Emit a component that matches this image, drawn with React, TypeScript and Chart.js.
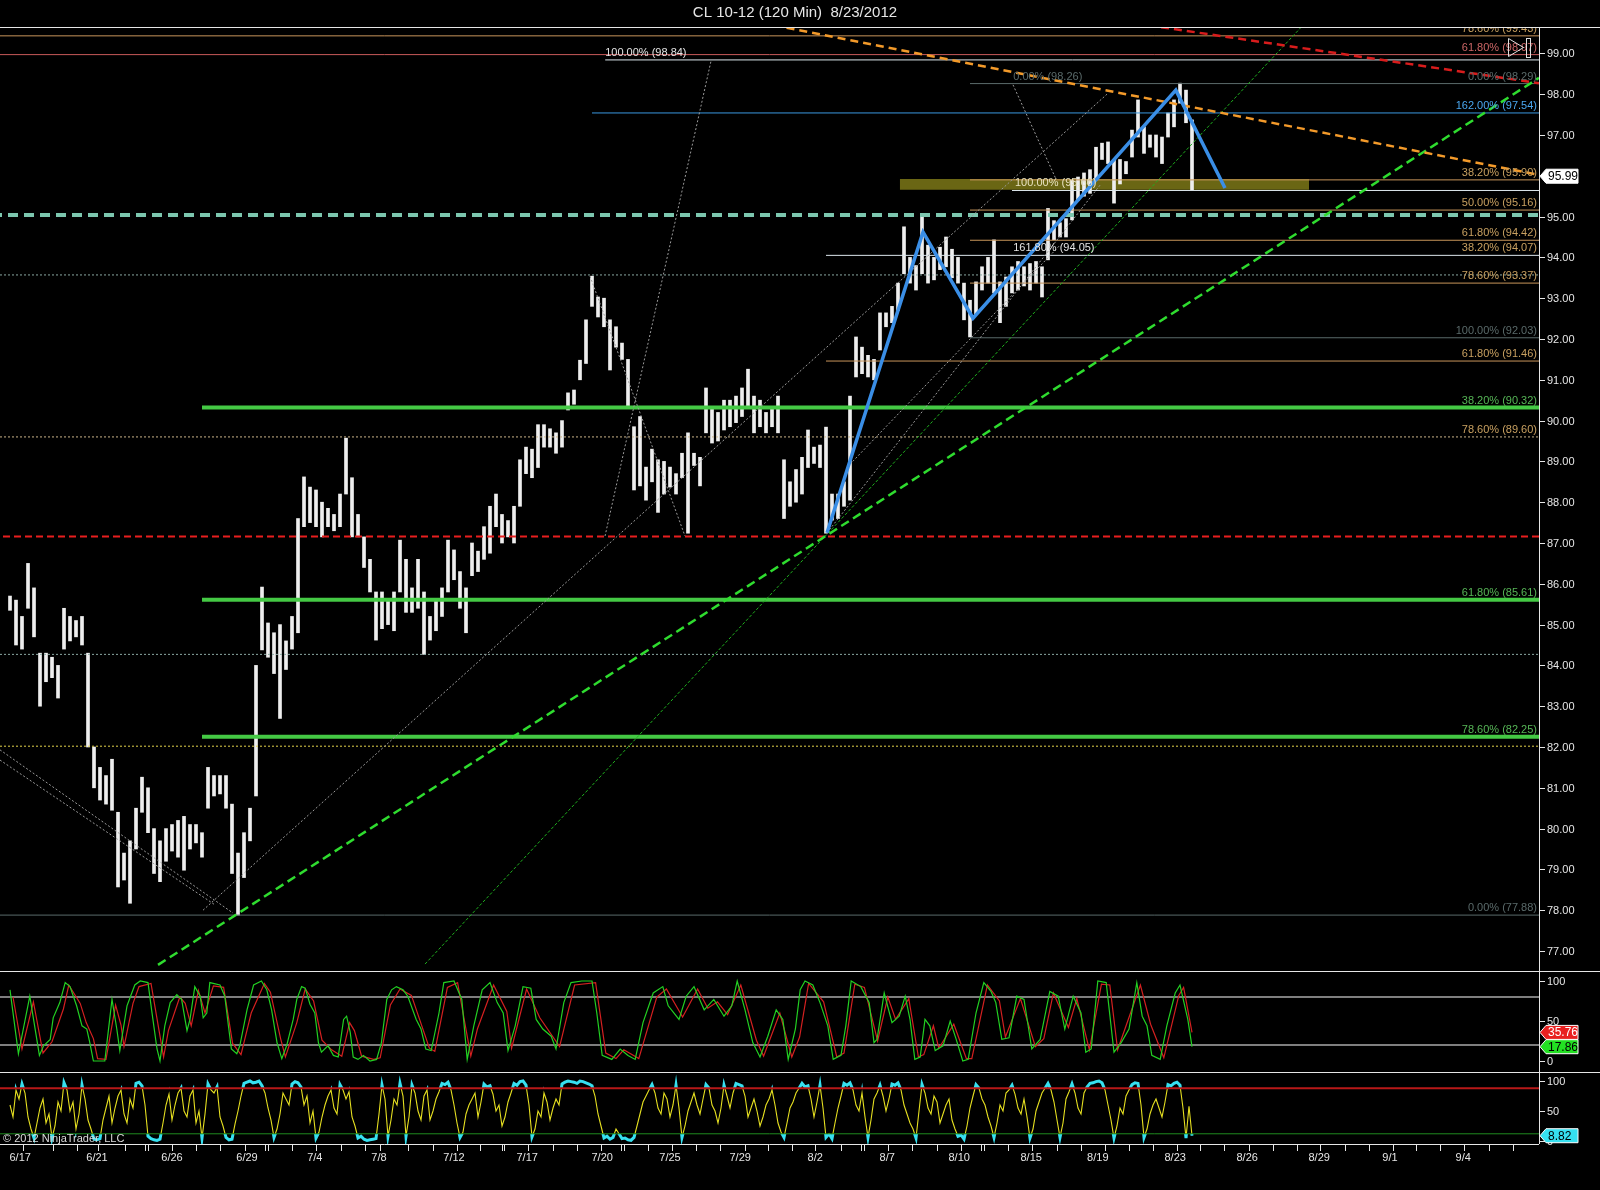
import React, { useEffect, useRef } from 'react';
import { Chart, registerables } from 'chart.js';

Chart.register(...registerables);

const FONT = "'Liberation Sans', Arial, sans-serif";
const TITLE = 'CL 10-12 (120 Min)  8/23/2012';
const COPYRIGHT = '\u00a9 2012 NinjaTrader, LLC';

// x axis: one slot per drawn price bar
const X_MIN = -1.667;
const X_MAX = 254.833;
// price axis range of the main panel
const P_MIN = 76.51;
const P_MAX = 99.647;

const highs = [
  85.7, 85.6, 85.2, 86.5, 85.9, 84.3, 84.3, 84.2, 84.0, 85.4,
  85.2, 85.1, 85.2, 84.3, 82.0, 81.5, 81.3, 81.7, 80.4, 79.4,
  79.7, 80.5, 81.26, 81.0, 80.0, 79.7, 80.0, 80.1, 80.2, 80.3,
  80.1, 80.1, 79.9, 81.5, 81.3, 81.3, 81.3, 80.6, 79.4, 79.9,
  80.5, 84.0, 85.92, 85.04, 84.8, 85.0, 84.6, 85.2, 87.6, 88.62,
  88.37, 88.3, 88.0, 87.85, 87.7, 88.2, 89.57, 88.6, 87.7, 87.15,
  86.6, 85.8, 85.8, 85.6, 85.8, 87.07, 86.6, 85.9, 86.6, 85.8,
  85.2, 85.6, 85.9, 87.07, 86.83, 86.3, 85.9, 87.0, 86.8, 87.4,
  87.9, 88.2, 87.7, 87.55, 87.9, 89.04, 89.35, 89.3, 89.9, 89.9,
  89.8, 89.7, 90.0, 90.68, 90.75, 91.48, 92.47, 93.54, 93.03, 93.0,
  92.47, 92.3, 91.9, 91.5, 89.85, 90.1, 88.86, 89.3, 89.04, 89.0,
  88.86, 88.7, 89.2, 89.7, 89.2, 89.1, 90.8, 90.33, 90.2, 90.5,
  90.5, 90.6, 90.8, 91.26, 90.6, 90.5, 90.2, 90.3, 90.6, 89.04,
  88.5, 88.8, 89.1, 89.77, 89.35, 89.4, 89.84, 88.2, 88.2, 88.5,
  90.6, 92.05, 91.8, 91.6, 91.5, 92.64, 92.64, 92.8, 93.37, 94.75,
  94.0, 93.8, 94.99, 94.3, 94.0, 94.25, 94.5, 94.2, 94.0, 93.37,
  92.95, 93.4, 93.77, 94.0, 94.43, 93.4, 93.52, 93.77, 93.9, 93.77,
  93.85, 93.9, 93.77, 95.2, 94.9, 94.85, 94.95, 95.9, 95.97, 96.07,
  96.15, 96.7, 96.8, 96.83, 96.4, 96.4, 96.35, 97.12, 97.86, 97.2,
  97.0, 97.0, 96.95, 97.54, 97.86, 98.27, 98.1, 97.37,
];

const lows = [
  85.35, 84.5, 84.4, 85.4, 84.7, 83.0, 83.6, 83.7, 83.2, 84.4,
  84.6, 84.7, 84.5, 82.0, 81.0, 80.7, 80.6, 80.45, 78.57, 78.74,
  78.17, 79.5, 80.4, 79.9, 78.9, 78.7, 79.2, 79.45, 79.3, 78.98,
  79.5, 79.65, 79.3, 80.5, 80.8, 80.85, 80.5, 78.9, 77.88, 78.8,
  79.7, 80.8, 84.38, 84.2, 83.8, 82.7, 83.9, 84.4, 84.8, 87.4,
  87.5, 87.4, 87.15, 87.4, 87.3, 87.4, 88.2, 87.15, 87.15, 86.4,
  85.8, 84.62, 84.9, 85.0, 84.85, 85.8, 85.3, 85.3, 85.4, 84.27,
  84.62, 84.85, 85.2, 85.8, 86.1, 85.4, 84.8, 86.2, 86.3, 86.6,
  86.75, 87.4, 87.0, 87.15, 87.0, 87.9, 88.7, 88.6, 88.85, 89.35,
  89.35, 89.2, 89.35, 90.26, 90.4, 91.0, 91.4, 92.8, 92.54, 92.3,
  91.24, 91.8, 91.5, 90.33, 88.3, 88.4, 88.05, 88.5, 87.75, 88.2,
  88.37, 88.2, 88.6, 87.24, 88.9, 88.4, 89.7, 89.45, 89.5, 89.77,
  89.85, 89.95, 90.1, 90.3, 89.7, 89.85, 89.7, 89.85, 89.7, 87.6,
  87.9, 88.0, 88.2, 88.85, 88.95, 88.85, 87.24, 87.56, 87.6, 87.9,
  88.05, 91.07, 91.15, 91.07, 91.0, 91.73, 92.3, 92.4, 92.7, 93.6,
  93.37, 93.2, 93.6, 93.37, 93.45, 93.7, 93.77, 93.5, 93.37, 92.47,
  92.05, 92.6, 93.2, 93.37, 93.13, 92.4, 92.8, 93.13, 93.2, 93.3,
  93.2, 93.37, 93.03, 93.94, 94.43, 94.5, 94.5, 94.92, 95.4, 95.5,
  95.57, 95.9, 96.4, 96.3, 95.33, 95.8, 96.05, 96.46, 96.95, 96.55,
  96.7, 96.46, 96.3, 96.95, 97.2, 97.78, 97.3, 95.66,
];

const lastPrice = 95.99;
const priceTicks = [77, 78, 79, 80, 81, 82, 83, 84, 85, 86, 87, 88, 89, 90, 91, 92, 93, 94, 95, 97, 98, 99];

// horizontal levels (price, first slot, style key, right label, right label colour, left label, left label slot)
const hPrice = [99.43, 98.97, 98.84, 98.26, 97.54, 95.9, 95.64, 95.16, 95.04, 94.42, 94.05, 93.57, 93.37, 92.03, 91.46, 90.32, 89.6, 87.16, 85.61, 84.27, 82.25, 82.02, 77.88];
const hFrom = [-3, -3, 99.2, 160, 97, 160, 167, 160, -3, 160, 136, -3, 160, 160, 136, 32, -3, -3, 32, -3, 32, -3, -3];
const hStyle = ['tan', 'salmon', 'white', 'gray', 'blue', 'tan', 'white', 'tan', 'teal', 'tan', 'white', 'dot', 'tan', 'gray', 'tan', 'green', 'tandot', 'reddash', 'green', 'dot', 'green', 'yellowdot', 'gray'];
const hRightText = ['78.60% (99.43)', '61.80% (98.97)', '', '0.00% (98.29)', '162.00% (97.54)', '38.20% (95.90)', '', '50.00% (95.16)', '', '61.80% (94.42)', '38.20% (94.07)', '', '78.60% (93.37)', '100.00% (92.03)', '61.80% (91.46)', '38.20% (90.32)', '78.60% (89.60)', '', '61.80% (85.61)', '', '78.60% (82.25)', '', '0.00% (77.88)'];
const hRightColor = ['tan', 'salmon', '', 'gray', 'blue', 'tan', '', 'tan', '', 'tan', 'tan', '', 'tan', 'gray', 'tan', 'green', 'tan', '', 'green', '', 'green', '', 'gray'];
const hLeftText = ['', '', '100.00% (98.84)', '0.00% (98.26)', '', '', '100.00% (95.66)', '', '', '', '161.80% (94.05)', '', '', '', '', '', '', '', '', '', '', '', ''];
const hLeftColor = ['', '', 'white', 'gray', '', '', 'cream', '', '', '', 'white', '', '', '', '', '', '', '', '', '', '', '', ''];
const hLeftAt = [0, 0, 99.2, 167.2, 0, 0, 167.5, 0, 0, 0, 167.2, 0, 0, 0, 0, 0, 0, 0, 0, 0, 0, 0, 0];

// olive zone
const bandFrom = 148.3;
const bandTo = 216.5;
const bandTop = 95.92;
const bandBottom = 95.66;

// trend / channel lines: start slot, start price, end slot, end price
const diagX0 = [127.3, 189.7, 24.67, 69.17, 32.17, 96.67, 99.17, -1.67, -1.67, 167.17, 136.17, 140];
const diagP0 = [99.69, 99.69, 76.66, 76.68, 78.0, 93.54, 87.17, 81.93, 81.68, 98.23, 87.25, 88.93];
const diagX1 = [254.83, 254.83, 254.83, 215.5, 182.83, 112.5, 116.83, 37.17, 34.17, 174.33, 181.67, 175];
const diagP1 = [96.02, 98.27, 98.4, 99.69, 98.0, 87.17, 98.81, 77.93, 78.13, 95.92, 95.77, 94.3];
const diagStyle = ['orangeDash', 'redDiag', 'greenDash', 'greenThin', 'grayThin', 'grayThin', 'grayThin', 'grayThin', 'grayThin', 'grayThin', 'grayThin', 'grayThin'];

// blue swing pattern
const zigX = [136.17, 152.17, 160.5, 194.3, 202.5];
const zigP = [87.25, 94.62, 92.51, 98.1, 95.7];

// stochastics (slot, value)
const stochK = [
  [0, 89], [1.4, 9], [3.3, 81], [4.9, 7], [5.6, 19], [6.7, 27], [7.2, 54], [8.3, 73], [9.2, 98], [10, 93],
  [11.1, 69], [12, 44], [12.8, 40], [13.3, 23], [13.9, 0], [15.8, 0], [17, 77], [17.8, 40], [18.3, 13], [19.5, 69],
  [20, 79], [20.8, 95], [21.7, 100], [23, 98], [23.6, 64], [24.5, 15], [25, 0], [25.8, 44], [26.7, 73], [27.8, 83],
  [28.6, 77], [29.5, 38], [30, 52], [30.8, 93], [31.7, 81], [32.2, 54], [32.8, 60], [33.3, 98], [35, 95], [35.8, 81],
  [36.4, 44], [36.9, 15], [37.8, 9], [38.3, 19], [39.5, 64], [40.6, 95], [41.9, 100], [42.8, 89], [43.6, 64], [44.5, 23],
  [45.3, 3], [46.1, 19], [47.2, 52], [47.8, 77], [48.6, 93], [49.2, 91], [50, 71], [50.8, 60], [51.4, 23], [51.9, 11],
  [53, 19], [53.9, 7], [54.7, 5], [55.6, 52], [56.1, 56], [56.7, 36], [57.2, 5], [58, 2], [58.9, 7], [60, 0],
  [61.1, 2], [61.9, 23], [62.8, 77], [63.6, 89], [64.4, 93], [65.5, 89], [66.3, 81], [67.7, 52], [68.5, 40], [69.3, 15],
  [70.2, 13], [71.5, 60], [72.3, 98], [74, 100], [75.3, 77], [76.2, 2], [77.3, 44], [78.7, 89], [80, 98], [81.2, 73],
  [82.2, 60], [83, 13], [84.2, 44], [85.5, 93], [86.8, 91], [87.7, 52], [88.8, 40], [90.2, 31], [91, 15], [92.3, 73],
  [93.5, 98], [95.3, 100], [97, 100], [97.8, 60], [98.7, 7], [100.3, 2], [101.7, 15], [103, 7], [104.2, 2], [105.5, 48],
  [107.2, 85], [108.8, 93], [109.7, 69], [111.5, 52], [112.7, 81], [114, 93], [115.7, 64], [117.3, 77], [119, 56], [120.3, 69],
  [121.2, 100], [122.5, 64], [123.8, 23], [125, 5], [126.3, 31], [127.7, 64], [128.8, 52], [129.7, 2], [130.9, 40], [131.7, 89],
  [132.5, 100], [133.8, 95], [135, 73], [136.3, 44], [137.2, 2], [138.5, 7], [139.3, 44], [140.2, 100], [141.8, 93], [143.2, 73],
  [144, 23], [144.5, 27], [145.7, 85], [147, 48], [148.2, 56], [149.2, 81], [150, 52], [150.8, 2], [151.7, 5], [152.5, 52],
  [153.3, 44], [154.2, 13], [155.5, 19], [156.7, 50], [157.7, 27], [158.8, 0], [159.7, 2], [161, 60], [162.3, 98], [163.5, 87],
  [164.3, 73], [165.3, 27], [166.5, 29], [167.8, 81], [169, 77], [170.3, 15], [171.7, 27], [173.3, 87], [174.7, 81], [175.8, 40],
  [177.2, 81], [178.5, 60], [179.3, 11], [180.2, 15], [181.3, 100], [182.7, 98], [184, 11], [185.2, 23], [186.5, 40], [187.8, 98],
  [188.7, 56], [189.5, 44], [190.3, 7], [191.7, 2], [192.8, 44], [194.2, 85], [195, 95], [196.3, 52], [197, 17.86],
];

const stochD = [
  [0.5, 80], [2, 15], [3.9, 74], [5.5, 10], [7, 24], [8.9, 65], [9.8, 95], [11.7, 72], [12.7, 48], [13.9, 28],
  [14.6, 3], [16, 2], [17.6, 70], [18.5, 45], [19, 18], [20.5, 72], [21.5, 93], [23.5, 97], [24.2, 66], [25.6, 5],
  [26.4, 38], [28.3, 80], [29.2, 72], [30.2, 44], [31.4, 88], [32.5, 60], [33.9, 94], [35.6, 92], [37.1, 22], [38.5, 8],
  [40.2, 60], [42.4, 97], [43.4, 86], [45.1, 28], [45.9, 5], [47.8, 48], [49.2, 90], [50.6, 75], [52, 26], [53.6, 14],
  [55.3, 6], [56.6, 48], [57.4, 38], [58.6, 6], [60.6, 2], [61.7, 4], [63.4, 70], [65, 90], [66.9, 82], [69.9, 16],
  [70.8, 12], [72.9, 92], [74.6, 98], [76.8, 6], [77.9, 40], [80.6, 95], [82.8, 62], [83.6, 16], [86.1, 90], [88.3, 54],
  [91.6, 18], [94.1, 95], [97.6, 98], [99.3, 10], [101, 3], [102.3, 14], [104.8, 3], [107.8, 80], [109.4, 90], [112.1, 55],
  [114.6, 90], [116.3, 66], [117.9, 74], [119.6, 58], [121.8, 95], [124.4, 26], [125.6, 6], [128.3, 60], [130.3, 5], [131.6, 30],
  [133.1, 97], [135.6, 74], [137.8, 5], [139, 10], [140.8, 96], [142.4, 92], [144.6, 25], [146.3, 80], [147.6, 52], [149.8, 78],
  [151.4, 5], [152.3, 8], [153.9, 44], [154.8, 16], [157.3, 46], [159.4, 3], [160.3, 3], [162.9, 95], [164.9, 75], [165.9, 30],
  [168.4, 78], [170.9, 18], [172.3, 28], [173.9, 85], [176.4, 42], [177.8, 78], [179.9, 14], [181.9, 96], [183.3, 95], [184.6, 14],
  [188.4, 95], [190.1, 46], [192.3, 4], [194.8, 82], [195.6, 92], [197, 35.76],
];

// second oscillator, one value per price bar ...
const osc2 = [
  60, 85, 95, 40, 5, 55, 30, 5, 65, 97,
  50, 20, 93, 35, 3, 4, 55, 30, 75, 45,
  70, 96, 92, 8, 2, 3, 60, 35, 80, 50,
  75, 30, 5, 95, 80, 40, 6, 3, 50, 96,
  100, 98, 92, 55, 6, 45, 70, 95, 97, 60,
  30, 5, 40, 75, 55, 94, 70, 40, 5, 3,
  2, 4, 93, 8, 70, 96, 8, 93, 50, 75,
  35, 70, 96, 98, 60, 6, 45, 70, 40, 95,
  92, 50, 25, 65, 96, 99, 93, 7, 50, 80,
  35, 70, 95, 100, 98, 100, 97, 92, 45, 5,
  3, 20, 4, 2, 6, 45, 75, 94, 55, 80,
  40, 93, 6, 50, 80, 45, 94, 60, 30, 93,
  55, 96, 92, 40, 70, 25, 60, 85, 30, 6,
  55, 80, 96, 92, 40, 93, 6, 4, 55, 96,
  97, 60, 80, 6, 70, 93, 50, 95, 97, 60,
  30, 5, 94, 55, 75, 30, 60, 35, 8, 3,
  55, 94, 70, 40, 6, 60, 80, 93, 55, 70,
  5, 50, 80, 96, 65, 6, 70, 95, 55, 80,
  96, 99, 97, 60, 5, 55, 75, 94, 96, 6,
  45, 70, 40, 94, 96, 93, 5, 8.82,
];
// ... and the readings half-way between them
const osc2Mid = [
  40, 70, 80, 20, 30, 70, 45, 25, 50, 85,
  65, 45, 70, 20, 2, 35, 75, 55, 85, 30,
  55, 98, 60, 4, 1, 30, 78, 60, 88, 40,
  85, 50, 45, 85, 90, 25, 2, 28, 75, 98,
  97, 100, 80, 35, 20, 80, 60, 99, 90, 75,
  50, 15, 60, 85, 45, 85, 82, 25, 8, 1,
  3, 45, 70, 35, 60, 75, 40, 80, 35, 85,
  50, 82, 94, 85, 30, 15, 60, 80, 65, 90,
  78, 60, 40, 80, 93, 100, 60, 20, 40, 65,
  55, 60, 98, 99, 96, 99, 95, 75, 25, 8,
  6, 12, 5, 1, 25, 65, 85, 80, 45, 70,
  60, 55, 25, 65, 60, 70, 88, 50, 55, 75,
  80, 94, 75, 55, 50, 40, 70, 60, 15, 30,
  65, 88, 90, 70, 65, 55, 12, 30, 75, 93,
  85, 50, 40, 35, 80, 75, 70, 93, 85, 45,
  20, 50, 80, 45, 65, 45, 70, 20, 10, 25,
  75, 88, 60, 25, 30, 50, 85, 78, 45, 40,
  20, 65, 88, 85, 35, 30, 82, 80, 45, 90,
  97, 100, 85, 35, 25, 45, 85, 97, 60, 20,
  60, 55, 65, 92, 98, 55, 58,
];
const osc2High = 88;
const osc2Low = 12;

const stochLevels = [80, 20];
const panelTicks = [100, 50, 0];

const dateLabels = ['6/17', '6/21', '6/26', '6/29', '7/4', '7/8', '7/12', '7/17', '7/20', '7/25', '7/29', '8/2', '8/7', '8/10', '8/15', '8/19', '8/23', '8/26', '8/29', '9/1', '9/4'];
const datePos = [1.7, 14.5, 27, 39.5, 50.8, 61.5, 74, 86.2, 98.7, 110, 121.7, 134.2, 146.2, 158.2, 170.2, 181.3, 194.2, 206.2, 218.2, 230, 242.2];
const dayTicks = [2.2, 7.2, 11.2, 14.7, 19.2, 22.5, 23, 27, 31, 35, 39.2, 42.5, 43, 47, 51, 55.2, 59.2, 61.7, 66.3, 70.5, 74.5, 78.3, 82, 82.3, 86.3, 90.5, 94.5, 98.5, 101.8, 102.3, 106.3, 110.3, 114.3, 118.3, 122.5, 126.3, 130.3, 134.2, 138.5, 141.8, 142.3, 146.3, 150.3, 154.5, 158.5, 161.8, 162.3, 166.3, 170.3, 174.5, 178.5, 182.5, 186.5, 190.5, 194.5, 198.3, 202.3, 206.5, 210.5, 214.5, 218.3, 222.5, 226.5, 230.5, 234.3, 238.3, 242.3, 246.5, 250.5];

// ---------------- styles ----------------
const STYLES: any = {
  tan: { color: '#c8955a', width: 1, dash: [] },
  salmon: { color: '#c85a5a', width: 1, dash: [] },
  white: { color: '#dce6ec', width: 1, dash: [] },
  gray: { color: '#5a6a6a', width: 1, dash: [] },
  blue: { color: '#3a98e0', width: 1, dash: [] },
  teal: { color: '#7cc6ae', width: 4, dash: [10, 6] },
  dot: { color: '#8aa8a2', width: 1, dash: [2, 2] },
  tandot: { color: '#ccb48a', width: 1, dash: [2, 2] },
  yellowdot: { color: '#e2d24a', width: 1, dash: [2, 2] },
  reddash: { color: '#e81e1e', width: 2, dash: [7, 4] },
  green: { color: '#44c944', width: 4, dash: [] },
  orangeDash: { color: '#f39a2a', width: 2.5, dash: [8, 5] },
  redDiag: { color: '#d81c1c', width: 2.5, dash: [8, 5] },
  greenDash: { color: '#2fdc2f', width: 2.5, dash: [9, 5] },
  greenThin: { color: '#1fb01f', width: 1, dash: [3, 2] },
  grayThin: { color: '#9a9a9a', width: 1, dash: [2, 2] },
  zig: { color: '#3a8ee6', width: 3.5, dash: [] },
};
const LABEL_COLORS: any = {
  tan: '#c8a060', salmon: '#cc6666', gray: '#5a6a6a', blue: '#4aa6ee', green: '#56b656', white: '#e4e4e4', cream: '#e8e2c0',
};
const AXIS_COLOR = '#e6e6e6';

function lineDs(points: number[][], style: any, order: number) {
  return {
    type: 'line',
    data: points.map(([x, y]) => ({ x, y })),
    borderColor: style.color,
    borderWidth: style.width,
    borderDash: style.dash,
    borderCapStyle: 'butt',
    pointRadius: 0,
    pointHoverRadius: 0,
    fill: false,
    tension: 0,
    order,
  };
}

function drawTag(ctx: any, x: number, y: number, text: string, bg: string, fg: string) {
  ctx.beginPath();
  ctx.moveTo(x, y);
  ctx.lineTo(x + 6, y - 7);
  ctx.lineTo(x + 38, y - 7);
  ctx.lineTo(x + 38, y + 7);
  ctx.lineTo(x + 6, y + 7);
  ctx.closePath();
  ctx.fillStyle = bg;
  ctx.fill();
  ctx.strokeStyle = '#ffffff';
  ctx.lineWidth = 1;
  ctx.stroke();
  ctx.fillStyle = fg;
  ctx.font = `12px ${FONT}`;
  ctx.textAlign = 'left';
  ctx.textBaseline = 'middle';
  ctx.fillText(text, x + 8, y + 0.5);
}

function hline(ctx: any, x0: number, y: number, x1: number) {
  ctx.beginPath();
  ctx.moveTo(x0, y);
  ctx.lineTo(x1, y);
  ctx.stroke();
}

function drawRightAxis(chart: any, ticks: number[], fmt: (v: number) => string) {
  const { ctx, chartArea: ca, scales } = chart;
  ctx.save();
  ctx.strokeStyle = AXIS_COLOR;
  ctx.lineWidth = 1;
  ctx.beginPath();
  ctx.moveTo(ca.right + 0.5, ca.top);
  ctx.lineTo(ca.right + 0.5, ca.bottom);
  ctx.stroke();
  ctx.font = `11px ${FONT}`;
  ctx.fillStyle = AXIS_COLOR;
  ctx.textAlign = 'left';
  ctx.textBaseline = 'middle';
  ticks.forEach((v) => {
    const yy = Math.round(scales.y.getPixelForValue(v)) + 0.5;
    hline(ctx, ca.right, yy, ca.right + 6);
    ctx.fillText(fmt(v), ca.right + 8, yy);
  });
  ctx.restore();
}

const mainDeco = {
  id: 'mainDeco',
  afterDatasetsDraw(chart: any) {
    const { ctx, chartArea: ca, scales } = chart;
    ctx.save();
    ctx.beginPath();
    ctx.rect(ca.left, ca.top, ca.right - ca.left, ca.bottom - ca.top);
    ctx.clip();
    ctx.font = `11px ${FONT}`;
    ctx.textBaseline = 'alphabetic';
    hPrice.forEach((p, k) => {
      const yy = scales.y.getPixelForValue(p) - 4;
      if (hRightText[k]) {
        ctx.textAlign = 'right';
        ctx.fillStyle = LABEL_COLORS[hRightColor[k]];
        ctx.fillText(hRightText[k], ca.right - 2, yy);
      }
      if (hLeftText[k]) {
        ctx.textAlign = 'left';
        ctx.fillStyle = LABEL_COLORS[hLeftColor[k]];
        ctx.fillText(hLeftText[k], scales.x.getPixelForValue(hLeftAt[k]), yy);
      }
    });
    // chart trader icon
    ctx.strokeStyle = '#e0e0e0';
    ctx.lineWidth = 1;
    ctx.beginPath();
    ctx.moveTo(ca.right - 30.5, ca.top + 11.5);
    ctx.lineTo(ca.right - 15.5, ca.top + 20.5);
    ctx.lineTo(ca.right - 30.5, ca.top + 29.5);
    ctx.closePath();
    ctx.stroke();
    ctx.strokeRect(ca.right - 12.5, ca.top + 11.5, 4, 19);
    ctx.restore();
  },
  afterDraw(chart: any) {
    const { ctx, chartArea: ca, scales } = chart;
    ctx.save();
    ctx.fillStyle = '#e6e6e6';
    ctx.font = `15px ${FONT}`;
    ctx.textAlign = 'center';
    ctx.textBaseline = 'middle';
    ctx.fillText(TITLE, 795, 13);
    ctx.strokeStyle = AXIS_COLOR;
    ctx.lineWidth = 1;
    hline(ctx, 0, ca.top + 0.5, chart.width);
    ctx.restore();
    drawRightAxis(chart, priceTicks, (v) => v.toFixed(2));
    ctx.save();
    drawTag(ctx, ca.right + 1, scales.y.getPixelForValue(lastPrice), lastPrice.toFixed(2), '#ffffff', '#000000');
    ctx.restore();
  },
};

const stochDeco = {
  id: 'stochDeco',
  afterDraw(chart: any) {
    const { ctx, chartArea: ca, scales } = chart;
    ctx.save();
    ctx.strokeStyle = AXIS_COLOR;
    ctx.lineWidth = 1;
    hline(ctx, 0, 0.5, chart.width);
    ctx.restore();
    drawRightAxis(chart, panelTicks, (v) => String(v));
    ctx.save();
    const kLast = stochK[stochK.length - 1][1];
    const dLast = stochD[stochD.length - 1][1];
    drawTag(ctx, ca.right + 1, scales.y.getPixelForValue(dLast), dLast.toFixed(2), '#e82020', '#ffffff');
    drawTag(ctx, ca.right + 1, scales.y.getPixelForValue(kLast), kLast.toFixed(2), '#22e022', '#000000');
    ctx.restore();
  },
};

const oscDeco = {
  id: 'oscDeco',
  afterDraw(chart: any) {
    const { ctx, chartArea: ca, scales } = chart;
    ctx.save();
    ctx.strokeStyle = AXIS_COLOR;
    ctx.lineWidth = 1;
    hline(ctx, 0, 0.5, chart.width);
    hline(ctx, 0, ca.bottom + 0.5, ca.right);
    dayTicks.forEach((t) => {
      const xx = Math.round(scales.x.getPixelForValue(t)) + 0.5;
      ctx.beginPath();
      ctx.moveTo(xx, ca.bottom);
      ctx.lineTo(xx, ca.bottom + 7);
      ctx.stroke();
    });
    ctx.fillStyle = AXIS_COLOR;
    ctx.font = `11px ${FONT}`;
    ctx.textAlign = 'center';
    ctx.textBaseline = 'middle';
    dateLabels.forEach((lab, k) => {
      ctx.fillText(lab, scales.x.getPixelForValue(datePos[k]), ca.bottom + 14);
    });
    ctx.textAlign = 'left';
    ctx.textBaseline = 'alphabetic';
    ctx.fillStyle = '#dcdcdc';
    ctx.fillText(COPYRIGHT, 3, 70);
    ctx.restore();
    drawRightAxis(chart, panelTicks, (v) => String(v));
    ctx.save();
    const last = osc2[osc2.length - 1];
    drawTag(ctx, ca.right + 1, scales.y.getPixelForValue(last), last.toFixed(2), '#36e0f0', '#000000');
    ctx.restore();
  },
};

function oscGradient(chart: any, mid: string, edge: string) {
  const { ctx, chartArea, scales } = chart;
  if (!chartArea || !scales.y) return mid;
  const top = chartArea.top;
  const h = chartArea.bottom - chartArea.top;
  const clamp = (v: number) => Math.min(Math.max(v, 0), 1);
  const f1 = clamp((scales.y.getPixelForValue(osc2High) - top) / h);
  const f2 = clamp((scales.y.getPixelForValue(osc2Low) - top) / h);
  const g = ctx.createLinearGradient(0, top, 0, chartArea.bottom);
  g.addColorStop(0, edge);
  g.addColorStop(f1, edge);
  g.addColorStop(f1, mid);
  g.addColorStop(f2, mid);
  g.addColorStop(f2, edge);
  g.addColorStop(1, edge);
  return g;
}

function baseOptions(yMin: number, yMax: number, padding: any) {
  return {
    animation: false,
    responsive: false,
    maintainAspectRatio: false,
    devicePixelRatio: 1,
    events: [],
    layout: { padding },
    plugins: { legend: { display: false }, tooltip: { enabled: false }, title: { display: false } },
    scales: {
      x: { type: 'linear', min: X_MIN, max: X_MAX, display: false, offset: false },
      y: {
        type: 'linear',
        position: 'right',
        min: yMin,
        max: yMax,
        ticks: { display: false },
        grid: { display: false },
        border: { display: false },
        afterFit: (s: any) => { s.width = 61; },
      },
    },
  };
}

export default function App() {
  const mainRef = useRef<HTMLCanvasElement>(null);
  const stochRef = useRef<HTMLCanvasElement>(null);
  const oscRef = useRef<HTMLCanvasElement>(null);

  useEffect(() => {
    document.body.style.background = '#000';
    const mainDatasets: any[] = [];
    mainDatasets.push(lineDs(zigX.map((x, k) => [x, zigP[k]]), STYLES.zig, 0));
    diagX0.forEach((x0, k) => {
      mainDatasets.push(lineDs([[x0, diagP0[k]], [diagX1[k], diagP1[k]]], STYLES[diagStyle[k]], 1));
    });
    hPrice.forEach((p, k) => {
      mainDatasets.push(lineDs([[hFrom[k], p], [X_MAX + 2, p]], STYLES[hStyle[k]], 2));
    });
    mainDatasets.push({
      type: 'bar',
      data: highs.map((h, i) => ({ x: i, y: [lows[i], h] })),
      backgroundColor: '#eeeeee',
      borderWidth: 0,
      barThickness: 3,
      order: 5,
    });
    mainDatasets.push({
      type: 'line',
      data: [{ x: bandFrom, y: bandTop }, { x: bandTo, y: bandTop }],
      borderWidth: 0,
      borderColor: 'rgba(0,0,0,0)',
      backgroundColor: '#6a6614',
      fill: { value: bandBottom },
      pointRadius: 0,
      order: 8,
    });

    const mainChart = new Chart(mainRef.current as any, {
      type: 'bar',
      data: { datasets: mainDatasets },
      options: baseOptions(P_MIN, P_MAX, { top: 27, left: 0, right: 0, bottom: 0 }) as any,
      plugins: [mainDeco],
    } as any);

    const stochChart = new Chart(stochRef.current as any, {
      type: 'line',
      data: {
        datasets: [
          lineDs(stochK, { color: '#22d022', width: 1.2, dash: [] }, 1),
          lineDs(stochD, { color: '#d42020', width: 1.2, dash: [] }, 2),
          ...stochLevels.map((v) => lineDs([[X_MIN - 2, v], [X_MAX + 2, v]], { color: '#a8a8a8', width: 1.5, dash: [] }, 3)),
        ],
      },
      options: baseOptions(-13.75, 112.5, { top: 0, left: 0, right: 0, bottom: 0 }) as any,
      plugins: [stochDeco],
    } as any);

    const oscPts: number[][] = [];
    osc2.forEach((v, i) => {
      oscPts.push([i, v]);
      if (i < osc2Mid.length) oscPts.push([i + 0.5, osc2Mid[i]]);
    });
    const oscChart = new Chart(oscRef.current as any, {
      type: 'line',
      data: {
        datasets: [
          lineDs([[X_MIN - 2, osc2High], [X_MAX + 2, osc2High]], { color: '#b81818', width: 2, dash: [] }, 0),
          lineDs([[X_MIN - 2, osc2Low], [X_MAX + 2, osc2Low]], { color: '#1f8a1f', width: 1, dash: [] }, 0),
          {
            ...lineDs(oscPts, { color: '#36e0f0', width: 3, dash: [] }, 1),
            borderColor: (c: any) => oscGradient(c.chart, 'rgba(0,0,0,0)', '#36e0f0'),
          },
          {
            ...lineDs(oscPts, { color: '#e6e020', width: 1.1, dash: [] }, 2),
            borderColor: (c: any) => oscGradient(c.chart, '#e6e020', '#36e0f0'),
          },
        ],
      },
      options: baseOptions(-5, 115, { top: 0, left: 0, right: 0, bottom: 46 }) as any,
      plugins: [oscDeco],
    } as any);

    return () => {
      mainChart.destroy();
      stochChart.destroy();
      oscChart.destroy();
    };
  }, []);

  return (
    <div style={{ position: 'absolute', left: 0, top: 0, width: 1600, height: 1190, background: '#000', overflow: 'hidden' }}>
      <canvas ref={mainRef} width={1600} height={971} style={{ position: 'absolute', left: 0, top: 0, width: 1600, height: 971 }} />
      <canvas ref={stochRef} width={1600} height={101} style={{ position: 'absolute', left: 0, top: 971, width: 1600, height: 101 }} />
      <canvas ref={oscRef} width={1600} height={118} style={{ position: 'absolute', left: 0, top: 1072, width: 1600, height: 118 }} />
    </div>
  );
}
